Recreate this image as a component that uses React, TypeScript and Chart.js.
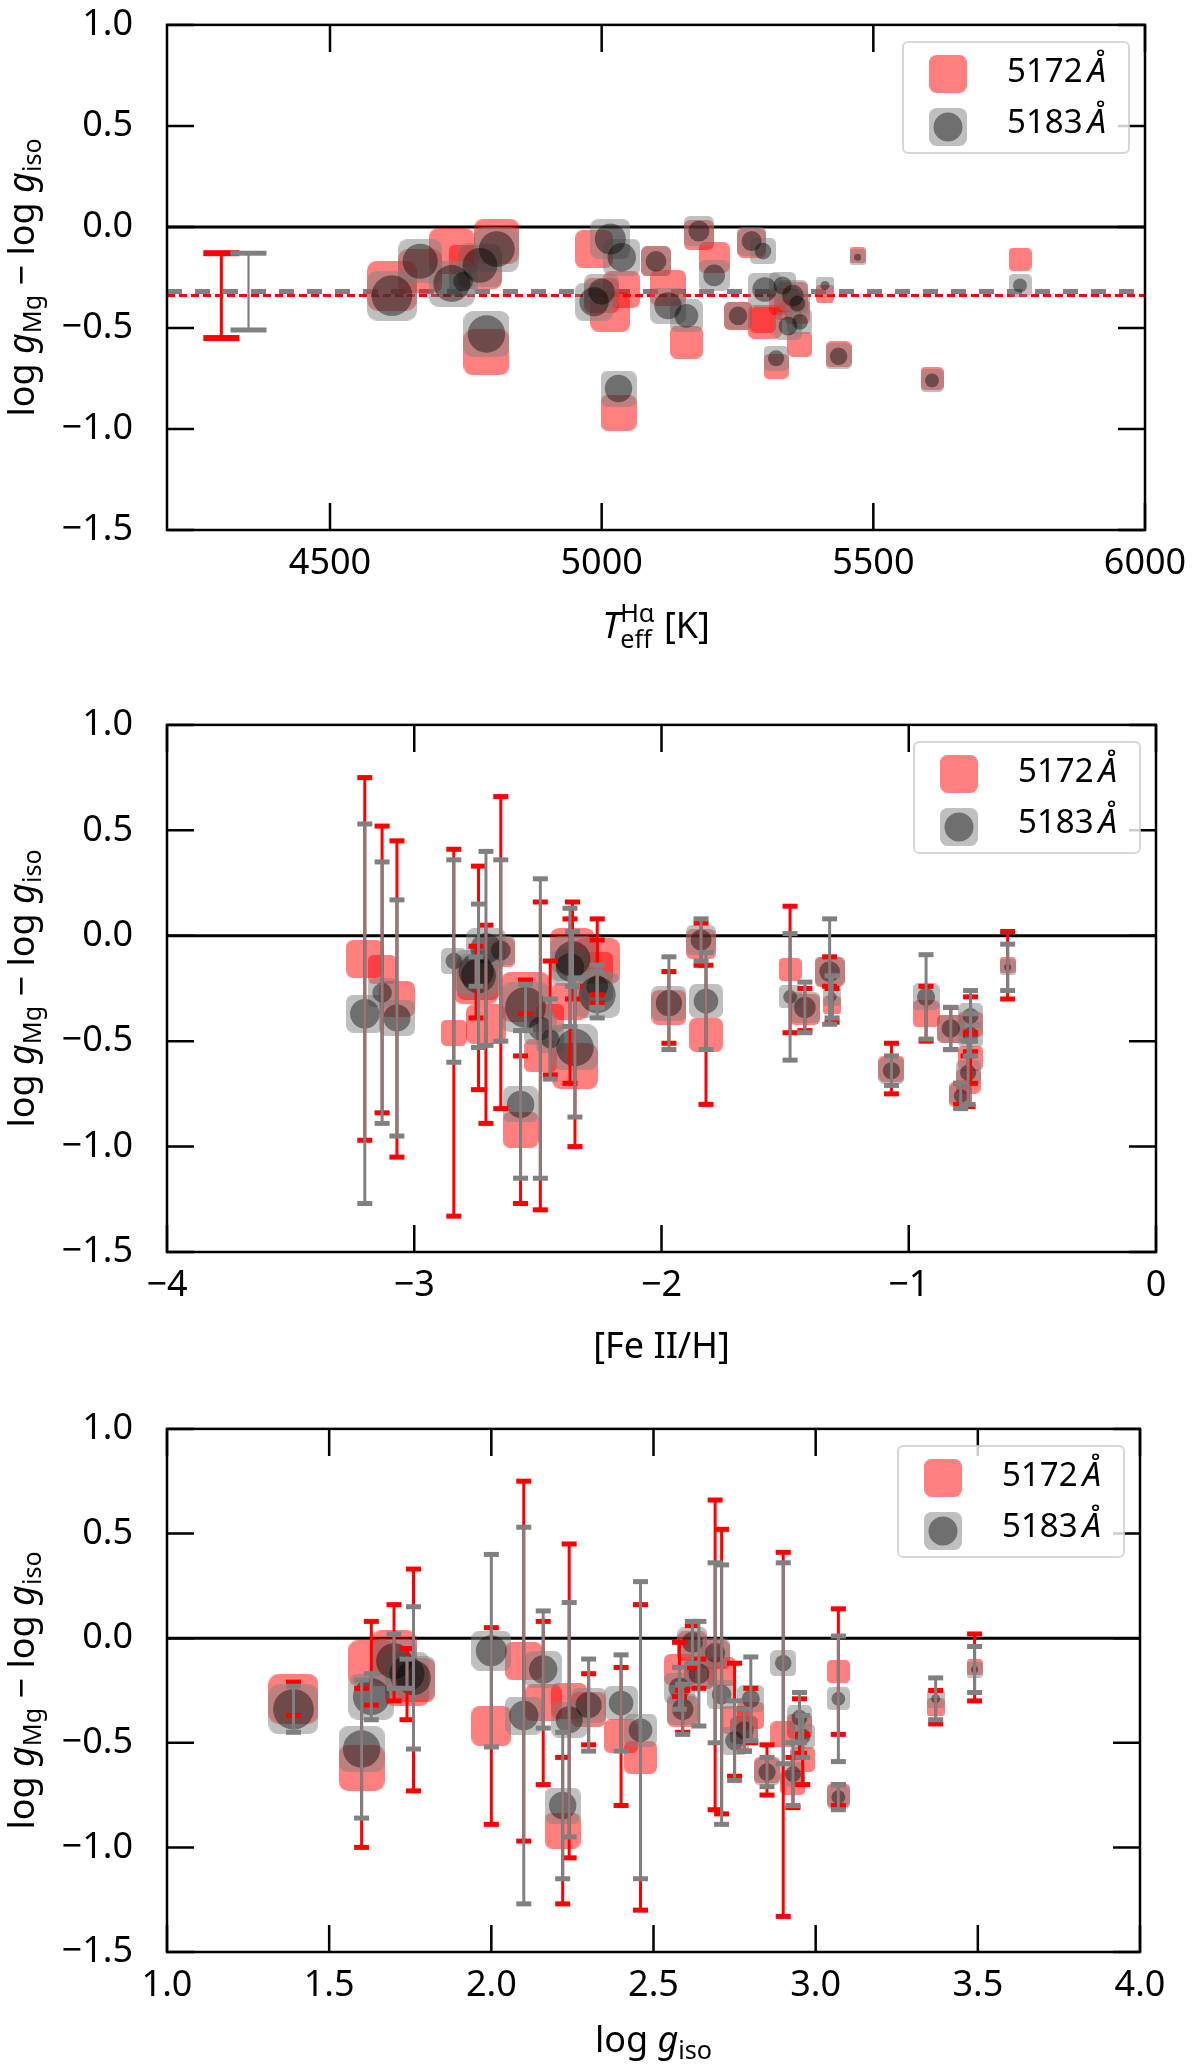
import React, { useEffect, useRef } from 'react';
import { Chart, registerables } from 'chart.js';
import type { Plugin } from 'chart.js';

Chart.register(...registerables);

// one entry per star
const starTeff = [4614, 4724, 4788, 4807, 4776, 4666, 5016, 4986, 5037, 5031, 5122, 5000, 5300, 5156, 5207, 5352, 5179, 5100, 5276, 4745, 5343, 5333, 5251, 5436, 5297, 5321, 5360, 5365, 5770, 5608, 5411, 5471];
const starFeH = [-2.55, -2.26, -2.35, -2.36, -2.74, -2.75, -2.71, -3.2, -2.37, -2.57, -3.07, -1.97, -1.82, -2.49, -2.26, -1.42, -1.84, -1.32, -2.65, -3.13, -2.45, -0.93, -0.83, -1.07, -2.84, -0.76, -0.75, -0.75, -1.48, -0.79, -1.31, -0.6];
const starLogg = [1.39, 1.63, 1.6, 1.7, 1.76, 1.74, 2.0, 2.1, 2.16, 2.22, 2.24, 2.3, 2.4, 2.46, 2.58, 2.59, 2.62, 2.64, 2.69, 2.71, 2.75, 2.8, 2.78, 2.85, 2.9, 2.93, 2.95, 2.96, 3.07, 3.07, 3.37, 3.49];
const dLogg5172 = [-0.29, -0.12, -0.62, -0.07, -0.2, -0.22, -0.42, -0.11, -0.31, -0.92, -0.3, -0.34, -0.47, -0.57, -0.15, -0.35, -0.04, -0.17, -0.08, -0.16, -0.39, -0.37, -0.44, -0.63, -0.46, -0.69, -0.42, -0.58, -0.16, -0.75, -0.33, -0.14];
const dLogg5183 = [-0.34, -0.28, -0.53, -0.11, -0.19, -0.17, -0.06, -0.37, -0.15, -0.8, -0.39, -0.32, -0.31, -0.44, -0.24, -0.34, -0.02, -0.17, -0.07, -0.27, -0.49, -0.29, -0.44, -0.64, -0.12, -0.65, -0.38, -0.47, -0.29, -0.76, -0.29, -0.15];
const err5172 = [0.08, 0.2, 0.38, 0.23, 0.53, 0.17, 0.47, 0.86, 0.39, 0.35, 0.75, 0.17, 0.33, 0.73, 0.13, 0.1, 0.1, 0.07, 0.74, 0.68, 0.27, 0.13, 0.1, 0.12, 0.87, 0.12, 0.13, 0.12, 0.3, 0.05, 0.08, 0.16];
const err5183 = [0.11, 0.11, 0.33, 0.13, 0.34, 0.07, 0.46, 0.9, 0.28, 0.35, 0.56, 0.22, 0.23, 0.71, 0.1, 0.12, 0.1, 0.25, 0.43, 0.62, 0.19, 0.2, 0.1, 0.07, 0.48, 0.15, 0.12, 0.1, 0.3, 0.06, 0.1, 0.11];

// sample means and typical errors (top panel)
const mean5172 = -0.34;
const mean5183 = -0.32;
const typErr5172 = 0.21;
const typErr5183 = 0.19;
const typErrTeff = [4300, 4350];

// tick values
const teffTicks = [4500, 5000, 5500, 6000];
const fehTicks = [-4, -3, -2, -1, 0];
const loggTicks = [1.0, 1.5, 2.0, 2.5, 3.0, 3.5, 4.0];
const diffTicks = [-1.5, -1.0, -0.5, 0.0, 0.5, 1.0];

const lineLabels = ['5172', '5183'];

const FONT = '"Noto Sans", sans-serif';
const RED = '#ff0000';
const GRAY = '#808080';
const RED_FILL = 'rgba(255,0,0,0.5)';
const GRAY_FILL = 'rgba(128,128,128,0.5)';
const CORE_FILL = 'rgba(0,0,0,0.42)';
const TICK_LEN = 27;

// marker size follows log g (bigger for giants)
const markerSide = (logg: number) => 16 * (4.5 - logg);

const imgCache = new Map<string, HTMLCanvasElement>();
function roundSquare(side: number, color: string) {
  const s = Math.max(4, Math.round(side));
  const key = s + color;
  let c = imgCache.get(key);
  if (!c) {
    c = document.createElement('canvas');
    c.width = s;
    c.height = s;
    const g = c.getContext('2d')!;
    g.fillStyle = color;
    g.beginPath();
    g.roundRect(0, 0, s, s, s * 0.2);
    g.fill();
    imgCache.set(key, c);
  }
  return c;
}

type Seg = { t: string; it?: boolean; sc?: number; dy?: number; stack?: boolean };

function drawRich(ctx: CanvasRenderingContext2D, segs: Seg[], size: number, cx: number, base: number) {
  const items: { s: Seg; fs: number; start: number }[] = [];
  let x = 0;
  let prevStart = 0;
  for (const s of segs) {
    const fs = size * (s.sc ?? 1);
    ctx.font = `${s.it ? 'italic ' : ''}${fs}px ${FONT}`;
    const w = ctx.measureText(s.t).width;
    const start = s.stack ? prevStart : x;
    items.push({ s, fs, start });
    if (!s.stack) prevStart = start;
    x = Math.max(x, start + w);
  }
  const left = cx - x / 2;
  ctx.textAlign = 'left';
  ctx.textBaseline = 'alphabetic';
  ctx.fillStyle = '#000';
  for (const it of items) {
    ctx.font = `${it.s.it ? 'italic ' : ''}${it.fs}px ${FONT}`;
    ctx.fillText(it.s.t, left + it.start, base + (it.s.dy ?? 0) * size);
  }
}

const yTitle: Seg[] = [
  { t: 'log ' }, { t: 'g', it: true }, { t: 'Mg', sc: 0.7, dy: 0.2 },
  { t: ' \u2212 log ' }, { t: 'g', it: true }, { t: 'iso', sc: 0.7, dy: 0.2 },
];

interface PanelSpec {
  xs: number[];
  xMin: number;
  xMax: number;
  xTicks: number[];
  xDecimals: number;
  title: Seg[];
  top: number;
  height: number;
  padTop: number;
  padRight: number;
  padBottom: number;
  axisH: number;
  titleOffset: number;
  errors: boolean;
  means: boolean;
}

const panelSpecs: PanelSpec[] = [
  {
    xs: starTeff, xMin: 4200, xMax: 6000, xTicks: teffTicks, xDecimals: 0,
    title: [{ t: 'T', it: true }, { t: 'eff', sc: 0.7, dy: 0.28 }, { t: 'H\u03b1', sc: 0.7, dy: -0.45, stack: true }, { t: ' [K]' }],
    top: 0, height: 700, padTop: 21, padRight: 55, padBottom: 20, axisH: 150, titleOffset: 108,
    errors: false, means: true,
  },
  {
    xs: starFeH, xMin: -4, xMax: 0, xTicks: fehTicks, xDecimals: 0,
    title: [{ t: '[Fe II/H]' }],
    top: 700, height: 704, padTop: 24, padRight: 44, padBottom: 2, axisH: 150, titleOffset: 106,
    errors: true, means: false,
  },
  {
    xs: starLogg, xMin: 1, xMax: 4, xTicks: loggTicks, xDecimals: 1,
    title: [{ t: 'log ' }, { t: 'g', it: true }, { t: 'iso', sc: 0.7, dy: 0.2 }],
    top: 1404, height: 664, padTop: 24, padRight: 60, padBottom: 6, axisH: 110, titleOffset: 100,
    errors: true, means: false,
  },
];

function errorBar(ctx: CanvasRenderingContext2D, px: number, yTop: number, yBot: number, color: string, lw: number, capW: number, capH: number) {
  ctx.strokeStyle = color;
  ctx.fillStyle = color;
  ctx.lineWidth = lw;
  ctx.beginPath();
  ctx.moveTo(px, yTop);
  ctx.lineTo(px, yBot);
  ctx.stroke();
  ctx.fillRect(px - capW / 2, yTop - capH / 2, capW, capH);
  ctx.fillRect(px - capW / 2, yBot - capH / 2, capW, capH);
}

function decorPlugin(p: PanelSpec): Plugin<'scatter'> {
  return {
    id: 'panelDecor',
    beforeDatasetsDraw(chart) {
      const { ctx, chartArea: a, scales } = chart;
      const ys = scales.y;
      ctx.save();
      ctx.beginPath();
      ctx.rect(a.left, a.top, a.width, a.height);
      ctx.clip();
      const y0 = ys.getPixelForValue(0);
      ctx.strokeStyle = '#000';
      ctx.lineWidth = 3;
      ctx.beginPath();
      ctx.moveTo(a.left, y0);
      ctx.lineTo(a.right, y0);
      ctx.stroke();
      if (p.means) {
        const yg = ys.getPixelForValue(mean5183);
        ctx.strokeStyle = GRAY;
        ctx.lineWidth = 5;
        ctx.setLineDash([15, 13]);
        ctx.beginPath();
        ctx.moveTo(a.left, yg);
        ctx.lineTo(a.right, yg);
        ctx.stroke();
        const yr = ys.getPixelForValue(mean5172);
        ctx.strokeStyle = RED;
        ctx.lineWidth = 3;
        ctx.setLineDash([8, 4]);
        ctx.beginPath();
        ctx.moveTo(a.left, yr);
        ctx.lineTo(a.right, yr);
        ctx.stroke();
        ctx.setLineDash([]);
      }
      ctx.restore();
    },
    afterDatasetsDraw(chart) {
      const { ctx, scales } = chart;
      const xs = scales.x;
      const ys = scales.y;
      ctx.save();
      if (p.errors) {
        p.xs.forEach((xv, i) => {
          errorBar(ctx, xs.getPixelForValue(xv), ys.getPixelForValue(dLogg5172[i] + err5172[i]),
            ys.getPixelForValue(dLogg5172[i] - err5172[i]), RED, 3, 15, 5);
        });
        p.xs.forEach((xv, i) => {
          errorBar(ctx, xs.getPixelForValue(xv), ys.getPixelForValue(dLogg5183[i] + err5183[i]),
            ys.getPixelForValue(dLogg5183[i] - err5183[i]), GRAY, 3, 15, 5);
        });
      }
      if (p.means) {
        errorBar(ctx, xs.getPixelForValue(typErrTeff[0]), ys.getPixelForValue(mean5172 + typErr5172),
          ys.getPixelForValue(mean5172 - typErr5172), RED, 3, 36, 6);
        errorBar(ctx, xs.getPixelForValue(typErrTeff[1]), ys.getPixelForValue(mean5183 + typErr5183),
          ys.getPixelForValue(mean5183 - typErr5183), GRAY, 2.2, 36, 5);
      }
      ctx.restore();
    },
    afterDraw(chart) {
      const { ctx, chartArea: a, scales } = chart;
      ctx.save();
      // inward ticks on all four sides
      ctx.strokeStyle = '#000';
      ctx.lineWidth = 2.5;
      ctx.beginPath();
      scales.x.ticks.forEach((t) => {
        const px = scales.x.getPixelForValue(t.value);
        ctx.moveTo(px, a.bottom);
        ctx.lineTo(px, a.bottom - TICK_LEN);
        ctx.moveTo(px, a.top);
        ctx.lineTo(px, a.top + TICK_LEN);
      });
      scales.y.ticks.forEach((t) => {
        const py = scales.y.getPixelForValue(t.value);
        ctx.moveTo(a.left, py);
        ctx.lineTo(a.left + TICK_LEN, py);
        ctx.moveTo(a.right, py);
        ctx.lineTo(a.right - TICK_LEN, py);
      });
      ctx.stroke();
      ctx.strokeRect(a.left, a.top, a.width, a.height);

      // axis titles
      drawRich(ctx, p.title, 36, (a.left + a.right) / 2, a.bottom + p.titleOffset);
      ctx.save();
      ctx.translate(34, (a.top + a.bottom) / 2);
      ctx.rotate(-Math.PI / 2);
      drawRich(ctx, yTitle, 36, 0, 0);
      ctx.restore();

      // legend
      const lw = 226;
      const lh = 111;
      const lx = a.right - 16 - lw;
      const ly = a.top + 17;
      ctx.fillStyle = 'rgba(255,255,255,0.8)';
      ctx.strokeStyle = 'rgba(204,204,204,0.8)';
      ctx.lineWidth = 2;
      ctx.beginPath();
      ctx.roundRect(lx, ly, lw, lh, 5);
      ctx.fill();
      ctx.stroke();
      const mx = lx + 45;
      const rows = [ly + 32, ly + 85];
      ctx.drawImage(roundSquare(38, RED_FILL), mx - 19, rows[0] - 19);
      ctx.drawImage(roundSquare(38, GRAY_FILL), mx - 19, rows[1] - 19);
      ctx.fillStyle = CORE_FILL;
      ctx.beginPath();
      ctx.arc(mx, rows[1], 14.5, 0, Math.PI * 2);
      ctx.fill();
      ctx.fillStyle = '#000';
      ctx.textAlign = 'left';
      ctx.textBaseline = 'alphabetic';
      lineLabels.forEach((lab, i) => {
        const base = ly + (i === 0 ? 40 : 91);
        ctx.font = `33px ${FONT}`;
        ctx.fillText(lab, lx + 104, base);
        const w = ctx.measureText(lab).width;
        ctx.font = `italic 33px ${FONT}`;
        ctx.fillText('\u00c5', lx + 104 + w + 5, base);
      });
      ctx.restore();
    },
  };
}

const Panel: React.FC<{ spec: PanelSpec }> = ({ spec }) => {
  const canvasRef = useRef<HTMLCanvasElement>(null);

  useEffect(() => {
    if (!canvasRef.current) return;
    const pts = (ys: number[]) => spec.xs.map((x, i) => ({ x, y: ys[i] }));
    const side = (i: number) => markerSide(starLogg[i]);
    const tickFont = { family: FONT, size: 36 };

    const chart = new Chart(canvasRef.current, {
      type: 'scatter',
      data: {
        datasets: [
          {
            label: lineLabels[0],
            data: pts(dLogg5172),
            order: 3,
            pointStyle: (c: any) => roundSquare(side(c.dataIndex), RED_FILL),
            pointRadius: (c: any) => side(c.dataIndex) / 2,
            borderWidth: 0,
          },
          {
            label: lineLabels[1],
            data: pts(dLogg5183),
            order: 2,
            pointStyle: (c: any) => roundSquare(side(c.dataIndex), GRAY_FILL),
            pointRadius: (c: any) => side(c.dataIndex) / 2,
            borderWidth: 0,
          },
          {
            label: lineLabels[1] + ' core',
            data: pts(dLogg5183),
            order: 1,
            pointStyle: 'circle',
            pointRadius: (c: any) => Math.max(2, side(c.dataIndex) - 9) / 2,
            backgroundColor: CORE_FILL,
            borderWidth: 0,
          },
        ],
      },
      options: {
        responsive: false,
        animation: false,
        devicePixelRatio: 1,
        events: [],
        layout: { padding: { top: spec.padTop, right: spec.padRight, bottom: spec.padBottom, left: 0 } },
        plugins: { legend: { display: false }, tooltip: { enabled: false } },
        scales: {
          x: {
            type: 'linear',
            position: 'bottom',
            min: spec.xMin,
            max: spec.xMax,
            grid: { display: false, drawTicks: false },
            border: { display: false },
            ticks: {
              autoSkip: false,
              maxRotation: 0,
              padding: 12,
              color: '#000',
              font: tickFont,
              callback: (v: any) => Number(v).toFixed(spec.xDecimals).replace('-', '\u2212'),
            },
            afterBuildTicks: (s: any) => {
              s.ticks = spec.xTicks.map((value) => ({ value }));
            },
            afterFit: (s: any) => {
              s.height = spec.axisH;
              s.paddingLeft = 0;
              s.paddingRight = 0;
            },
          },
          y: {
            type: 'linear',
            position: 'left',
            min: -1.5,
            max: 1.0,
            grid: { display: false, drawTicks: false },
            border: { display: false },
            ticks: {
              padding: 34,
              color: '#000',
              font: tickFont,
              callback: (v: any) => Number(v).toFixed(1).replace('-', '\u2212'),
            },
            afterBuildTicks: (s: any) => {
              s.ticks = diffTicks.map((value) => ({ value }));
            },
            afterFit: (s: any) => {
              s.width = 167;
              s.paddingTop = 0;
              s.paddingBottom = 0;
            },
          },
        },
      },
      plugins: [decorPlugin(spec)],
    });

    return () => {
      chart.destroy();
    };
  }, [spec]);

  return (
    <canvas
      ref={canvasRef}
      width={1200}
      height={spec.height}
      style={{ position: 'absolute', left: 0, top: spec.top, display: 'block' }}
      role="img"
      aria-label="log g difference scatter panel"
    />
  );
};

export default function App() {
  return (
    <div style={{ position: 'absolute', left: 0, top: 0, width: 1200, height: 2068, background: '#fff' }}>
      {panelSpecs.map((spec, i) => (
        <Panel key={i} spec={spec} />
      ))}
    </div>
  );
}
